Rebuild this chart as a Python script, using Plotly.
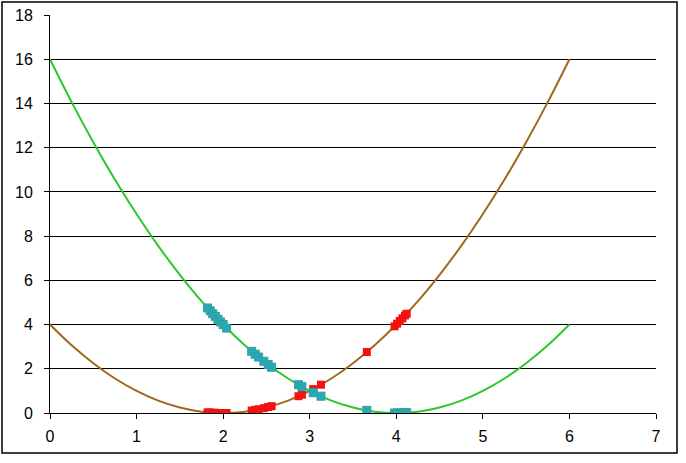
import plotly.graph_objects as go

# Curve samples
curve_x = [0, 0.25, 0.5, 0.75, 1, 1.25, 1.5, 1.75, 2, 2.25, 2.5, 2.75, 3,
           3.25, 3.5, 3.75, 4, 4.25, 4.5, 4.75, 5, 5.25, 5.5, 5.75, 6]
brown_y = [4, 3.06, 2.25, 1.56, 1, 0.56, 0.25, 0.06, 0, 0.06, 0.25, 0.56, 1,
           1.56, 2.25, 3.06, 4, 5.06, 6.25, 7.56, 9, 10.56, 12.25, 14.06, 16]
green_y = [16, 14.06, 12.25, 10.56, 9, 7.56, 6.25, 5.06, 4, 3.06, 2.25, 1.56, 1,
           0.56, 0.25, 0.06, 0, 0.06, 0.25, 0.56, 1, 1.56, 2.25, 3.06, 4]

# Sample points (shared x positions)
pts_x = [1.82, 1.85, 1.88, 1.91, 1.94, 1.97, 2.0, 2.04,
         2.33, 2.37, 2.41, 2.47, 2.52, 2.56,
         2.87, 2.91, 3.04, 3.13, 3.66,
         3.98, 4.01, 4.04, 4.07, 4.10, 4.12]
red_y = [0.03, 0.02, 0.01, 0.01, 0.0, 0.0, 0.0, 0.0,
         0.11, 0.14, 0.17, 0.22, 0.27, 0.31,
         0.76, 0.83, 1.08, 1.28, 2.76,
         3.92, 4.04, 4.16, 4.28, 4.41, 4.49]
cyan_y = [4.75, 4.62, 4.49, 4.37, 4.24, 4.12, 4.0, 3.84,
          2.79, 2.66, 2.53, 2.34, 2.19, 2.07,
          1.28, 1.19, 0.92, 0.76, 0.12,
          0.0, 0.0, 0.0, 0.0, 0.01, 0.01]

x_ticks = [0, 1, 2, 3, 4, 5, 6, 7]
y_ticks = [0, 2, 4, 6, 8, 10, 12, 14, 16, 18]

fig = go.Figure()
fig.add_trace(go.Scatter(x=curve_x, y=brown_y, mode="lines",
                         line=dict(color="#A0681C", width=2, shape="spline"),
                         showlegend=False, hoverinfo="skip"))
fig.add_trace(go.Scatter(x=curve_x, y=green_y, mode="lines",
                         line=dict(color="#2BC82B", width=2, shape="spline"),
                         showlegend=False, hoverinfo="skip"))
fig.add_trace(go.Scatter(x=pts_x, y=red_y, mode="markers",
                         marker=dict(symbol="square", size=8, color="#F21212",
                                     line=dict(width=0)),
                         showlegend=False))
fig.add_trace(go.Scatter(x=pts_x, y=cyan_y, mode="markers",
                         marker=dict(symbol="square-x", size=8, color="#22ACCC",
                                     line=dict(width=1, color="#34A094")),
                         showlegend=False))

L, R, T, B = 50, 30, 15, 50
W, H = 686, 463
pw, ph = W - L - R, H - T - B

fig.update_layout(
    width=W, height=H,
    margin=dict(l=L, r=R, t=T, b=B),
    paper_bgcolor="white", plot_bgcolor="white",
    font=dict(family="Liberation Sans, Arial, sans-serif", size=16, color="black"),
    xaxis=dict(range=[0, 7], tickvals=x_ticks, ticks="outside", ticklen=5,
               tickcolor="black", showgrid=False, zeroline=False, automargin=False,
               ticklabelstandoff=4,
               showline=True, linecolor="black", linewidth=1),
    yaxis=dict(range=[0, 18.001], tickvals=y_ticks, ticks="outside", ticklen=5,
               tickcolor="black", showgrid=True, gridcolor="black", gridwidth=1,
               zeroline=False, automargin=False, ticklabelstandoff=8,
               showline=True, linecolor="black", linewidth=1),
    shapes=[dict(type="rect", xref="paper", yref="paper",
                 x0=(2 - L) / pw, x1=(677 - L) / pw,
                 y0=(H - B - 453) / ph, y1=(H - B - 2) / ph,
                 line=dict(color="black", width=1.5), layer="below")],
)

fig.write_html("out.html", config={"displayModeBar": False},
               post_script="document.body.style.margin='0px';document.body.style.overflow='hidden';")
